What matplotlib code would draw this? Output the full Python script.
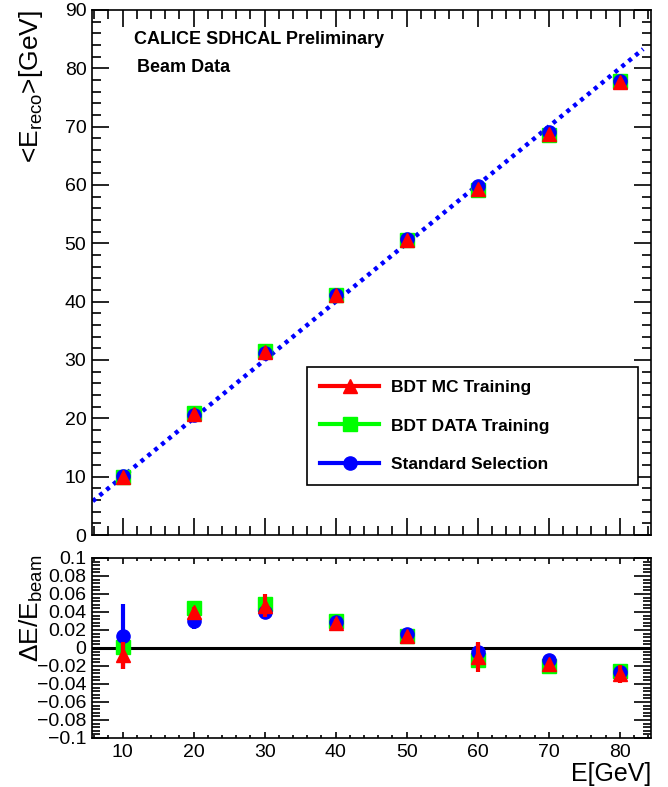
import matplotlib
matplotlib.use("Agg")
import matplotlib.pyplot as plt
from matplotlib.lines import Line2D
from matplotlib.ticker import MultipleLocator, FixedLocator

plt.rcParams['font.family'] = ['Liberation Sans', 'DejaVu Sans']
plt.rcParams['mathtext.fontset'] = 'custom'
plt.rcParams['mathtext.rm'] = 'Liberation Sans'
plt.rcParams['mathtext.default'] = 'regular'

# Beam energies (GeV)
energy = [10, 20, 30, 40, 50, 60, 70, 80]

# Mean reconstructed energy (GeV)
reco_mc = [9.92, 20.8, 31.4, 41.1, 50.65, 59.4, 68.7, 77.7]
reco_data = [10.0, 20.9, 31.5, 41.2, 50.65, 59.2, 68.5, 77.9]
reco_std = [10.13, 20.6, 31.2, 41.2, 50.8, 59.8, 69.1, 77.8]

# Relative deviation (E_reco - E_beam) / E_beam and its uncertainty
res_mc = [-0.008, 0.040, 0.047, 0.028, 0.013, -0.010, -0.018, -0.029]
err_mc = [0.015, 0.006, 0.013, 0.004, 0.004, 0.017, 0.004, 0.010]
res_data = [0.001, 0.044, 0.049, 0.030, 0.013, -0.013, -0.020, -0.026]
err_data = [0.006, 0.008, 0.008, 0.004, 0.003, 0.005, 0.003, 0.005]
res_std = [0.013, 0.030, 0.040, 0.029, 0.016, -0.004, -0.013, -0.027]
err_std = [0.036, 0.009, 0.008, 0.003, 0.004, 0.010, 0.004, 0.006]

# Reference line E_reco = E_beam
line_x = [5.8, 83.3]
line_y = [5.8, 83.3]

labels = ["BDT MC Training", "BDT DATA Training", "Standard Selection"]
RED, GREEN, BLUE = "#ff0000", "#00ff00", "#0000ff"

W, H = 668, 787
fig = plt.figure(figsize=(W / 100, H / 100), dpi=100)
L, R = 92, 651
ax = fig.add_axes([L / W, (H - 535) / H, (R - L) / W, (535 - 10) / H])
axr = fig.add_axes([L / W, (H - 738) / H, (R - L) / W, (738 - 558) / H])

xlim = (5.7, 84.4)
ms = 9.5

# ---- upper panel: mean reconstructed energy ----
ax.plot(line_x, line_y, color=BLUE, lw=3.2, ls=(0, (0.9, 1.1)),
        dash_capstyle='butt', zorder=2)
ax.plot(energy, reco_data, 's', color=GREEN, ms=ms, zorder=3)
ax.plot(energy, reco_std, 'o', color=BLUE, ms=ms, zorder=4)
ax.plot(energy, reco_mc, '^', color=RED, ms=ms, zorder=5)

ax.set_xlim(*xlim)
ax.set_ylim(0, 90)
ax.xaxis.set_major_locator(MultipleLocator(10))
ax.xaxis.set_minor_locator(MultipleLocator(2))
ax.yaxis.set_major_locator(MultipleLocator(10))
ax.yaxis.set_minor_locator(MultipleLocator(2))
ax.tick_params(which='both', direction='in', top=True, right=True, width=1.2)
ax.tick_params(which='major', length=12, labelsize=14, pad=4)
ax.tick_params(which='minor', length=6.5)
ax.tick_params(axis='x', labelbottom=False)
for s in ax.spines.values():
    s.set_linewidth(1.2)

ax.set_ylabel('<E$_{reco}$>[GeV]', fontsize=19, loc='top')
ax.yaxis.set_label_coords(-0.084, 1.0)

ax.text(0.075, 0.944, "CALICE SDHCAL Preliminary", transform=ax.transAxes,
        fontsize=13, fontweight='bold', va='center', ha='left')
ax.text(0.081, 0.890, "Beam Data", transform=ax.transAxes,
        fontsize=13, fontweight='bold', va='center', ha='left')

handles = [
    Line2D([], [], color=RED, lw=3, marker='^', ms=ms),
    Line2D([], [], color=GREEN, lw=3, marker='s', ms=ms),
    Line2D([], [], color=BLUE, lw=3, marker='o', ms=ms),
]
leg = ax.legend(handles, labels, loc='lower left',
                bbox_to_anchor=(0.385, 0.095, 0.592, 0.22), mode='expand',
                prop={'weight': 'bold', 'size': 12.5}, frameon=True,
                fancybox=False, edgecolor='black', framealpha=1,
                handlelength=3.4, handletextpad=0.7, labelspacing=1.35,
                borderpad=0.75, borderaxespad=0, numpoints=1)
leg.get_frame().set_linewidth(1.2)

# ---- lower panel: relative deviation ----
axr.axhline(0, color='black', lw=2.2, zorder=1)
eb = dict(fmt='none', elinewidth=3, capsize=0)
axr.errorbar(energy, res_data, yerr=err_data, ecolor=GREEN, zorder=2, **eb)
axr.plot(energy, res_data, 's', color=GREEN, ms=ms, zorder=3)
axr.errorbar(energy, res_std, yerr=err_std, ecolor=BLUE, zorder=4, **eb)
axr.plot(energy, res_std, 'o', color=BLUE, ms=ms, zorder=5)
axr.errorbar(energy, res_mc, yerr=err_mc, ecolor=RED, zorder=6, **eb)
axr.plot(energy, res_mc, '^', color=RED, ms=ms, zorder=7)

axr.set_xlim(*xlim)
axr.set_ylim(-0.1, 0.1)
axr.xaxis.set_major_locator(MultipleLocator(10))
axr.xaxis.set_minor_locator(MultipleLocator(2))
axr.yaxis.set_major_locator(FixedLocator([round(-0.1 + 0.02 * i, 2) for i in range(11)]))
axr.yaxis.set_minor_locator(MultipleLocator(0.004))
axr.set_yticklabels(['\u22120.1', '\u22120.08', '\u22120.06', '\u22120.04', '\u22120.02',
                     '0', '0.02', '0.04', '0.06', '0.08', '0.1'])
axr.tick_params(which='both', direction='in', top=True, right=True, width=1.2)
axr.tick_params(axis='y', which='major', length=12, labelsize=14, pad=4)
axr.tick_params(axis='y', which='minor', length=5.5)
axr.tick_params(axis='x', which='major', length=4, labelsize=14, pad=4)
axr.tick_params(axis='x', which='minor', length=2)
for s in axr.spines.values():
    s.set_linewidth(1.2)

axr.set_ylabel('\u0394E/E$_{beam}$', fontsize=19, loc='top')
axr.yaxis.set_label_coords(-0.084, 1.02)
axr.set_xlabel('E[GeV]', fontsize=18, loc='right')
axr.xaxis.set_label_coords(1.0, -0.135)

fig.savefig("out.png", dpi=100)
